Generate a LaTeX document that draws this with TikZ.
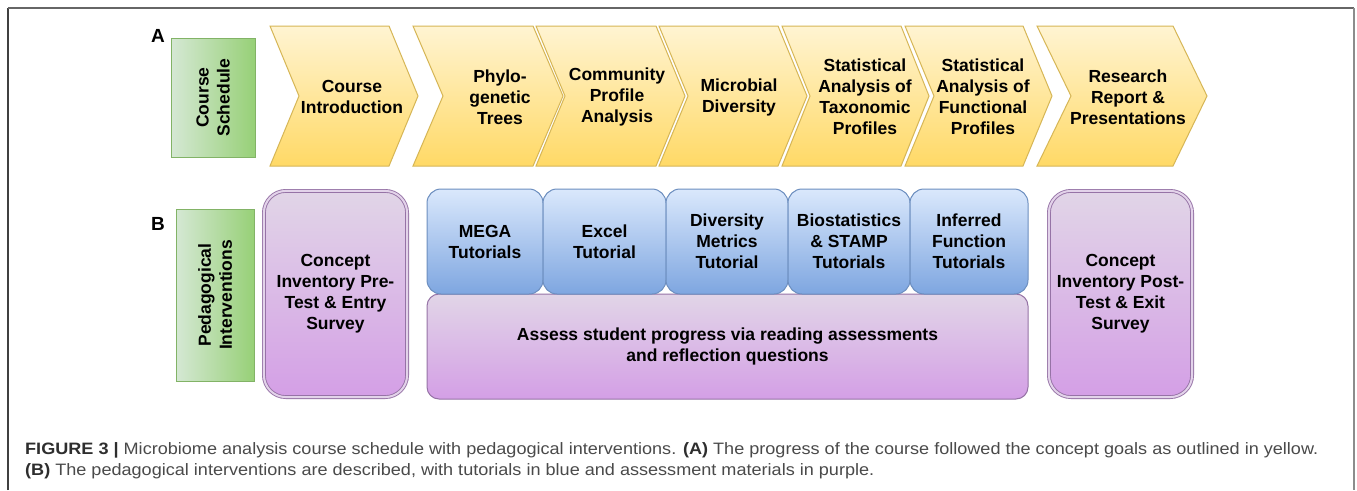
\documentclass[tikz,border=0pt]{standalone}
\usepackage{fontspec}
\usepackage{graphicx}
\setmainfont{Liberation Sans}
\definecolor{ytop}{HTML}{FFF4D2}
\definecolor{ybot}{HTML}{FFD966}
\definecolor{ystroke}{HTML}{D6B656}
\definecolor{btop}{HTML}{DAE8FC}
\definecolor{bbot}{HTML}{7EA6E0}
\definecolor{bstroke}{HTML}{6C8EBF}
\definecolor{ptop}{HTML}{E1D5E7}
\definecolor{pbot}{HTML}{D49FE6}
\definecolor{pstroke}{HTML}{9673A6}
\definecolor{pgap}{HTML}{E3D3EA}
\definecolor{gleft}{HTML}{D5E8D4}
\definecolor{gright}{HTML}{97D077}
\definecolor{gstroke}{HTML}{82B366}
\definecolor{captxt}{HTML}{4A4A4A}
\definecolor{capbold}{HTML}{2E2E2E}
\newcommand\dgfont{\fontsize{17.5}{21}\selectfont\bfseries}
\newcommand\capfont{\fontsize{16.5}{21}\selectfont}
\newsavebox\capboxA
\newsavebox\capboxB
\newlength\capWA
\tikzset{
  chev/.style={draw=ystroke, line width=1pt, top color=ytop, bottom color=ybot, line join=miter},
  dtext/.style={font=\dgfont, align=center, inner sep=0pt, text=black},
  bluebox/.style={draw=bstroke, line width=1pt, top color=btop, bottom color=bbot, rounded corners=14pt, inner sep=0pt, font=\dgfont, align=center},
  purplebox/.style={draw=pstroke, line width=1pt, top color=ptop, bottom color=pbot, rounded corners=12pt, inner sep=0pt, font=\dgfont, align=center},
  dblbox/.style={draw=pstroke, line width=0.9pt, double=pgap, double distance=2pt, top color=ptop, bottom color=pbot, rounded corners=22pt, inner sep=0pt, font=\dgfont, align=center},
  greenbox/.style={draw=gstroke, line width=1pt, left color=gleft, right color=gright, inner sep=0pt},
  panel/.style={font=\fontsize{19}{22}\selectfont\bfseries, inner sep=0pt, anchor=base west},
  captext/.style={inner sep=0pt, anchor=base west, text=captxt}
}
\newcommand\mychev[3]{\path[chev] (#1,26) -- (#2,26) -- ({#2+#3},96) -- (#2,166) -- (#1,166) -- ({#1+#3},96) -- cycle;}
\begin{document}
\sbox\capboxA{\capfont\color{captxt}{\bfseries\color{capbold}FIGURE 3 |} Microbiome analysis course schedule with pedagogical interventions. {\bfseries\color{capbold}(A)} The progress of the course followed the concept goals as outlined in yellow.}%
\sbox\capboxB{\capfont\color{captxt}{\bfseries\color{capbold}(B)} The pedagogical interventions are described, with tutorials in blue and assessment materials in purple.}%
\setlength\capWA{\wd\capboxA}%
\pgfmathsetmacro\capS{1293/\capWA}%
\begin{tikzpicture}[x=1pt,y=-1pt]
\useasboundingbox[fill=white] (0,0) rectangle (1357,490);
% frame
\draw[line width=1.5pt, draw=black!75] (8,490) -- (8,8);
\draw[line width=1.5pt, draw=black!60] (8,8) -- (1354,8);
\draw[line width=1.5pt, draw=black!45] (1354,8) -- (1354,490);
% panel labels
\node[panel] (la) at (151,42) {A};
\node[panel] (lb) at (151,230) {B};
% green boxes
\node[greenbox, minimum width=84pt, minimum height=119pt] (gs) at (213,97.5) {};
\node[dtext, rotate=90] (gst) at (gs.center) {Course\\Schedule};
\node[greenbox, minimum width=78pt, minimum height=172pt] (gp) at (215,295) {};
\node[dtext, rotate=90] (gpt) at (gp.center) {Pedagogical\\Interventions};
% chevrons
\mychev{270}{389}{29}
\mychev{413}{533}{30}
\mychev{536}{656}{29}
\mychev{659}{778}{29}
\mychev{782}{901}{28}
\mychev{905}{1023}{29}
\mychev{1037}{1173}{34}
\node[dtext] (c1) at (352,97) {Course\\Introduction};
\node[dtext] (c2) at (500,97) {Phylo-\\genetic\\Trees};
\node[dtext] (c3) at (617,97) {Community\\Profile\\Analysis};
\node[dtext] (c4) at (739,97) {Microbial\\Diversity};
\node[dtext] (c5) at (865,97) {Statistical\\Analysis of\\Taxonomic\\Profiles};
\node[dtext] (c6) at (983,97) {Statistical\\Analysis of\\Functional\\Profiles};
\node[dtext] (c7) at (1128,97) {Research\\Report \&\\Presentations};
% row B
\node[dblbox, minimum width=143.2pt, minimum height=206.2pt] (pre) at (335.5,294) {Concept\\Inventory Pre-\\Test \& Entry\\Survey};
\node[dblbox, minimum width=143.2pt, minimum height=206.2pt] (post) at (1120.5,294) {Concept\\Inventory Post-\\Test \& Exit\\Survey};
\node[purplebox, minimum width=601pt, minimum height=105pt] (assess) at (727.5,346.5) {Assess student progress via reading assessments\\and reflection questions};
\node[bluebox, minimum width=116pt, minimum height=105pt] (t1) at (485,241.5) {MEGA\\Tutorials};
\node[bluebox, minimum width=123pt, minimum height=105pt] (t2) at (604.5,241.5) {Excel\\Tutorial};
\node[bluebox, minimum width=122pt, minimum height=105pt] (t3) at (727,241.5) {Diversity\\Metrics\\Tutorial};
\node[bluebox, minimum width=122pt, minimum height=105pt] (t4) at (849,241.5) {Biostatistics\\\& STAMP\\Tutorials};
\node[bluebox, minimum width=118pt, minimum height=105pt] (t5) at (969,241.5) {Inferred\\Function\\Tutorials};
% caption
\node[captext] (cap1) at (25,454) {\scalebox{\capS}[1]{\usebox\capboxA}};
\node[captext] (cap2) at (25,475) {\scalebox{\capS}[1]{\usebox\capboxB}};
\end{tikzpicture}
\end{document}
